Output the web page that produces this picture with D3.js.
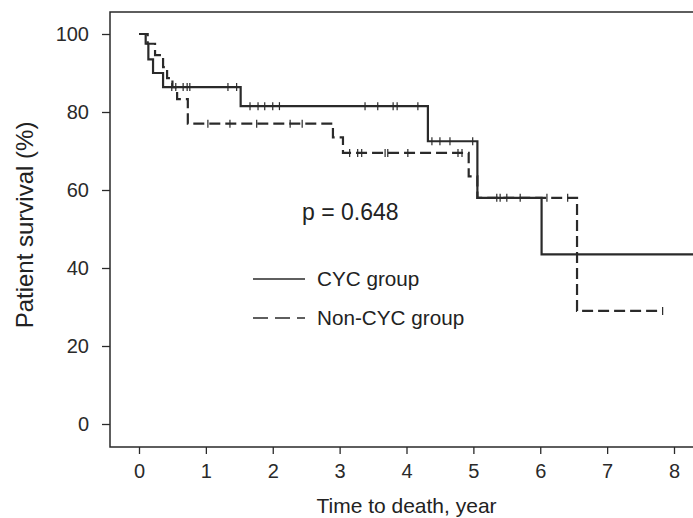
<!DOCTYPE html>
<html>
<head>
<meta charset="utf-8">
<script src="https://cdn.jsdelivr.net/npm/d3@7"></script>
<style>
  body { margin: 0; background: #fff; }
  svg text { font-family: "Liberation Sans", Arial, sans-serif; fill: #222; }
</style>
</head>
<body>
<svg id="chart" width="693" height="518"></svg>
<script>
// Kaplan-Meier steps
var cycTimes = [0, 0.1, 0.14, 0.21, 0.36, 1.52, 4.32, 5.06, 6.02];
var cycSurv = [100, 97.5, 93.5, 90, 86.4, 81.5, 72.5, 58, 43.5];
var cycEnd = 8.5;
var cycCensor = [0.49, 0.66, 0.72, 0.76, 1.33, 1.46, 1.66, 1.78, 1.88, 2.0, 2.1,
  3.38, 3.57, 3.8, 3.86, 4.17, 4.38, 4.5, 4.65, 4.99, 5.4, 5.7];

var nonTimes = [0, 0.13, 0.24, 0.36, 0.42, 0.5, 0.57, 0.73, 2.9, 3.05, 4.93, 5.06, 6.55];
var nonSurv = [100, 97.5, 94.6, 91.5, 88.7, 86.4, 83.3, 77, 73.5, 69.5, 63.5, 58, 29];
var nonEnd = 7.83;
var nonCensor = [0.55, 1.03, 1.36, 1.76, 2.26, 2.44, 3.15, 3.27, 3.33, 3.68, 3.72,
  4.02, 4.77, 4.83, 5.35, 5.5, 6.1, 6.41, 7.83];

var xTicks = [0, 1, 2, 3, 4, 5, 6, 7, 8];
var yTicks = [0, 20, 40, 60, 80, 100];

var svg = d3.select("#chart");
var frame = { left: 110, top: 12, bottom: 447, right: 700 };

var x = d3.scaleLinear().domain([0, 8]).range([139, 674]);
var y = d3.scaleLinear().domain([0, 100]).range([424, 34]);

var ink = "#2a2a2a";

svg.append("clipPath").attr("id", "clip")
  .append("rect")
  .attr("x", frame.left).attr("y", frame.top)
  .attr("width", 693 - frame.left).attr("height", frame.bottom - frame.top);

// frame
svg.append("path")
  .attr("d", "M" + frame.right + "," + frame.top + "H" + frame.left + "V" + frame.bottom + "H" + frame.right)
  .attr("fill", "none")
  .attr("stroke", ink)
  .attr("stroke-width", 1.5);

// y axis
var yAxis = d3.axisLeft(y).tickValues(yTicks).tickSize(8).tickPadding(13);
var gy = svg.append("g").attr("transform", "translate(" + frame.left + ",0)").call(yAxis);
gy.select(".domain").remove();
gy.selectAll("line").attr("stroke", ink).attr("stroke-width", 1.3);
gy.selectAll("text").attr("font-size", 20).style("fill", ink);

// x axis
var xAxis = d3.axisBottom(x).tickValues(xTicks).tickSize(7).tickPadding(10);
var gx = svg.append("g").attr("transform", "translate(0," + frame.bottom + ")").call(xAxis);
gx.select(".domain").remove();
gx.selectAll("line").attr("stroke", ink).attr("stroke-width", 1.3);
gx.selectAll("text").attr("font-size", 20).style("fill", ink);

// axis titles
svg.append("text")
  .attr("x", x(4)).attr("y", 513)
  .attr("text-anchor", "middle")
  .attr("font-size", 21)
  .text("Time to death, year");

svg.append("text")
  .attr("transform", "translate(33,225) rotate(-90)")
  .attr("text-anchor", "middle")
  .attr("font-size", 24)
  .text("Patient survival (%)");

function stepPath(times, surv, end) {
  var pts = [];
  times.forEach(function(t, i) {
    if (i > 0) pts.push([x(t), y(surv[i - 1])]);
    pts.push([x(t), y(surv[i])]);
  });
  pts.push([x(end), y(surv[surv.length - 1])]);
  return d3.line()(pts);
}

function survAt(times, surv, t) {
  var i = d3.bisectRight(times, t) - 1;
  return surv[Math.max(0, i)];
}

var plot = svg.append("g").attr("clip-path", "url(#clip)");

function drawCurve(times, surv, end, censor, dash) {
  plot.append("path")
    .attr("d", stepPath(times, surv, end))
    .attr("fill", "none")
    .attr("stroke", ink)
    .attr("stroke-width", 2.2)
    .attr("stroke-dasharray", dash);

  plot.selectAll(null)
    .data(censor)
    .enter()
    .append("line")
    .attr("x1", function(d) { return x(d); })
    .attr("x2", function(d) { return x(d); })
    .attr("y1", function(d) { return y(survAt(times, surv, d)) - 4; })
    .attr("y2", function(d) { return y(survAt(times, surv, d)) + 4; })
    .attr("stroke", ink)
    .attr("stroke-width", 1.2);
}

drawCurve(nonTimes, nonSurv, nonEnd, nonCensor, "11,5");
drawCurve(cycTimes, cycSurv, cycEnd, cycCensor, null);

// p value and legend
svg.append("text")
  .attr("x", 302).attr("y", 220)
  .attr("font-size", 23)
  .text("p = 0.648");

var legend = [
  { name: "CYC group", dash: null, yy: 279 },
  { name: "Non-CYC group", dash: "15,7", yy: 318 }
];

var lg = svg.selectAll(".leg").data(legend).enter().append("g").attr("class", "leg");
lg.append("line")
  .attr("x1", 253).attr("x2", 305)
  .attr("y1", function(d) { return d.yy; })
  .attr("y2", function(d) { return d.yy; })
  .attr("stroke", ink)
  .attr("stroke-width", 1.5)
  .attr("stroke-dasharray", function(d) { return d.dash; });
lg.append("text")
  .attr("x", 317)
  .attr("y", function(d) { return d.yy + 7; })
  .attr("font-size", 20.7)
  .text(function(d) { return d.name; });
</script>
</body>
</html>
